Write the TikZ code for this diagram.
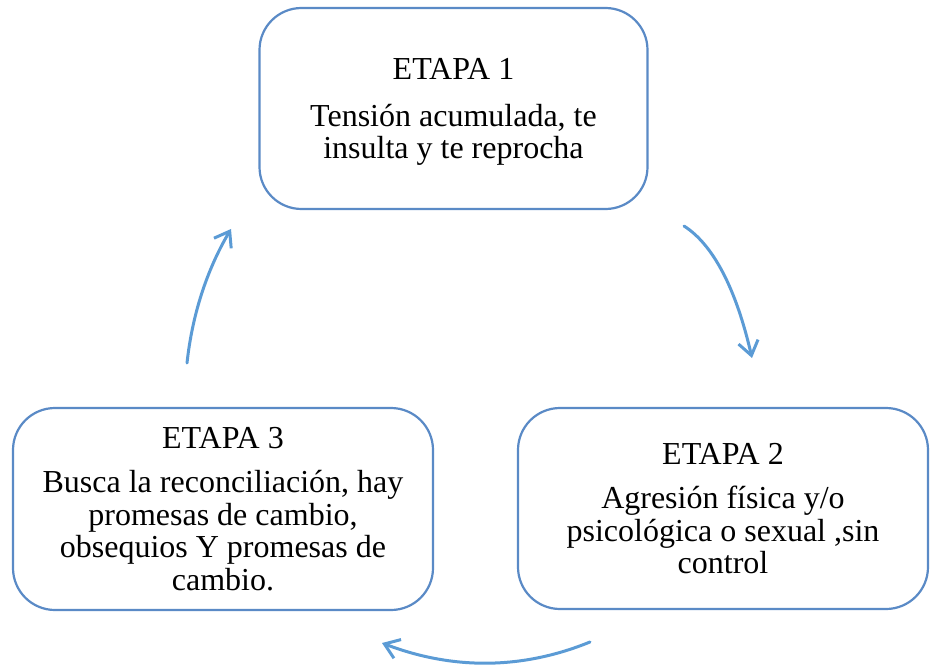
\documentclass[tikz,border=0pt]{standalone}
\usepackage{fontspec}
\setmainfont{Liberation Serif}
\usetikzlibrary{arrows.meta}
\definecolor{boxblue}{HTML}{5A8AC6}
\definecolor{arrblue}{HTML}{5B9BD5}
\tikzset{
  stagebox/.style={draw=boxblue, line width=2.2pt, rounded corners=42pt, fill=white,
    align=center, inner sep=0pt,
    font=\fontsize{32}{32.5}\selectfont},
  cyclearrow/.style={draw=arrblue, line width=3pt, line cap=round,
    -{Straight Barb[length=14pt,width=20pt,line width=3pt]}}
}
\begin{document}
\begin{tikzpicture}[x=1pt,y=-1pt]
\useasboundingbox (0,0) rectangle (930,666);
\node[stagebox, minimum width=388pt, minimum height=201pt] (e1) at (453.5,108.5) {};
\node[align=center, inner sep=0pt, font=\fontsize{32}{32.5}\selectfont] (t1) at (453.5,112)
  {ETAPA 1\\[14pt]Tensión acumulada, te\\insulta y te reprocha};
\node[stagebox, minimum width=410pt, minimum height=201pt] (e2) at (723,508.5)
  {ETAPA 2\\[12pt]Agresión física y/o\\psicológica o sexual ,sin\\control};
\node[stagebox, minimum width=420pt, minimum height=202pt] (e3) at (223,509)
  {ETAPA 3\\[12pt]Busca la reconciliación, hay\\promesas de cambio,\\obsequios Y promesas de\\cambio.};
\coordinate (a1s) at (684,226);
\coordinate (a1e) at (752,358);
\coordinate (a2s) at (590,642);
\coordinate (a2e) at (382,643);
\coordinate (a3s) at (187,363);
\coordinate (a3e) at (231,229);
\draw[cyclearrow] (a1s) .. controls (713.3,244.7) and (736,288.7) .. (a1e);
\draw[cyclearrow] (a2s) .. controls (522,669.7) and (452.7,670) .. (a2e);
\draw[cyclearrow] (a3s) .. controls (192.3,314.3) and (207,269.7) .. (a3e);
\end{tikzpicture}
\end{document}
